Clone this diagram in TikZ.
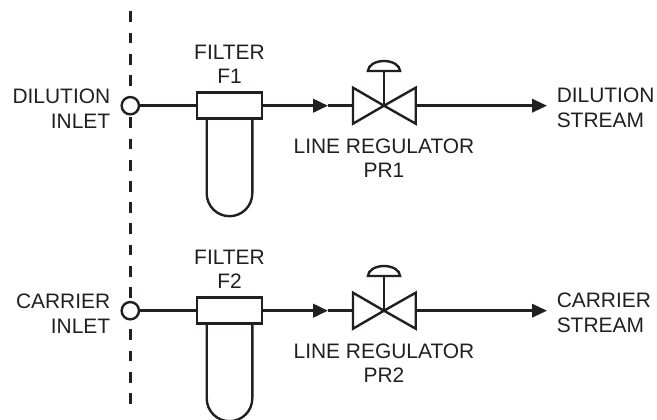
\documentclass[tikz,border=0pt]{standalone}
\usepackage{fontspec}
\setmainfont{Liberation Sans}
\usetikzlibrary{arrows.meta,calc}
\definecolor{ink}{HTML}{231F20}
\tikzset{
  x=.75pt,y=.75pt,
  pipe/.style={draw=ink,line width=1.8pt},
  flowline/.style={pipe,-{Triangle[length=11.2pt,width=10pt]}},
  inlet/.style={circle,draw=ink,line width=1.8pt,fill=white,inner sep=0pt,minimum size=13pt},
  head/.style={rectangle,draw=ink,line width=1.8pt,fill=white,inner sep=0pt,minimum width=49pt,minimum height=19.5pt},
  lbl/.style={text=ink,font=\fontsize{15.7pt}{18.3pt}\selectfont,align=center,inner sep=0pt},
  lblr/.style={lbl,align=right},
  lbll/.style={lbl,align=left},
  boundary/.style={draw=ink,line width=2.2pt,dash pattern=on 8pt off 7.9pt},
}
\newcommand{\stage}[6]{% #1 id, #2 y, #3 inlet text, #4 filter text, #5 reg text, #6 out text
  \coordinate (v#1) at (384,#2);
  \node[inlet] (in#1) at (130.3,#2) {};
  \node[head] (f#1) at (229.5,#2) {};
  \draw[pipe] ($(f#1.south)+(-22.8,0)$) coordinate (bl#1) -- ++(0,-73.5) arc[start angle=180,end angle=360,radius=17.1pt] -- ($(f#1.south)+(22.8,0)$);
  \draw[pipe] (in#1) -- (f#1);
  \coordinate (vl#1) at (353,#2);
  \coordinate (vr#1) at (415.7,#2);
  \draw[pipe,line join=miter] (v#1) -- ($(vl#1)+(0,18)$) -- ($(vl#1)+(0,-18)$) -- cycle;
  \draw[pipe,line join=miter] (v#1) -- ($(vr#1)+(0,18)$) -- ($(vr#1)+(0,-18)$) -- cycle;
  \coordinate (st#1) at ($(v#1)+(0,34.7)$);
  \draw[pipe] (v#1) -- (st#1);
  \draw[pipe] ($(st#1)+(-16,0)$) arc[start angle=180,end angle=0,x radius=12pt,y radius=7.5pt] -- cycle;
  \draw[flowline,line width=2.2pt] (f#1) -- ($(vl#1)+(-25,0)$) coordinate (m#1);
  \draw[pipe] (m#1) -- (vl#1);
  \coordinate (tip#1) at (547,#2);
  \draw[flowline] (vr#1) -- (tip#1);
  \node[lblr,anchor=east] (tin#1) at (110.5,#2-3) {#3};
  \node[lbl,anchor=south] (tf#1) at (229.5,#2+22) {#4};
  \node[lbl,anchor=north] (tr#1) at (384,#2-33) {#5};
  \node[lbll,anchor=west] (to#1) at (556.5,#2-2) {#6};
}
\begin{document}
\begin{tikzpicture}
\useasboundingbox (0,0) rectangle (657,-420);
\fill[white] (0,0) rectangle (657,-420);
\coordinate (dtop) at (130.3,-11.5);
\coordinate (dbot) at (130.3,-406);
\draw[boundary] (dtop) -- (dbot);
\stage{1}{-105.7}{DILUTION\\INLET}{FILTER\\F1}{LINE REGULATOR\\PR1}{DILUTION\\STREAM}
\stage{2}{-310.7}{CARRIER\\INLET}{FILTER\\F2}{LINE REGULATOR\\PR2}{CARRIER\\STREAM}
\end{tikzpicture}
\end{document}
